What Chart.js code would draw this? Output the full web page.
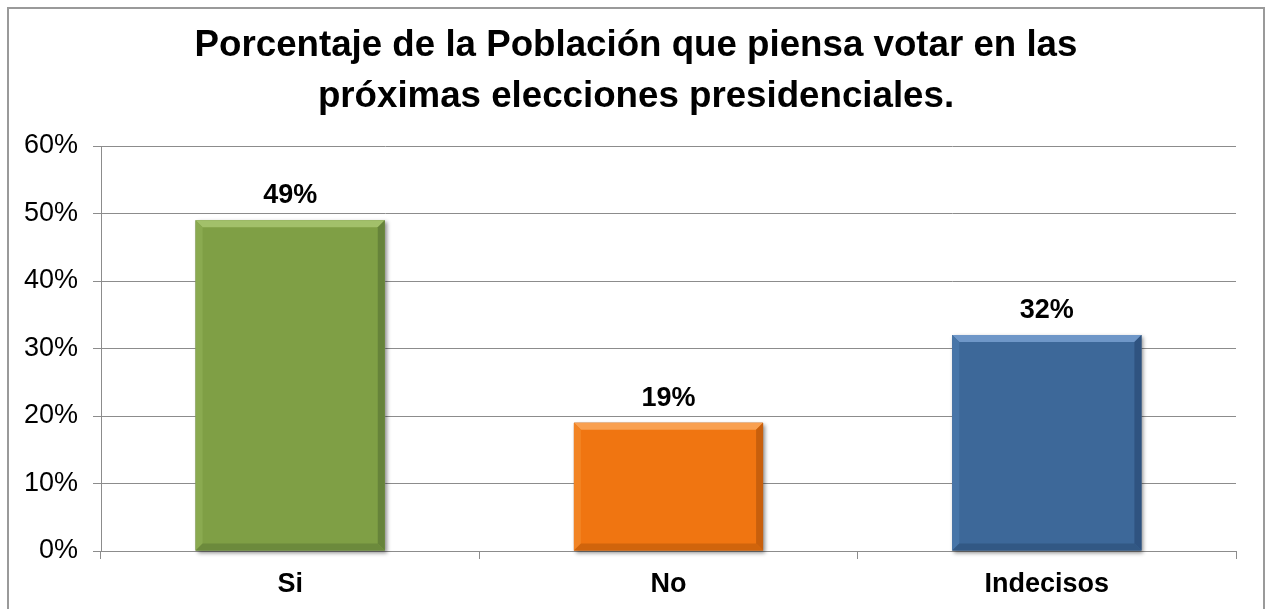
<!DOCTYPE html>
<html>
<head>
<meta charset="utf-8">
<script src="https://cdn.jsdelivr.net/npm/chart.js@4/dist/chart.umd.min.js"></script>
<style>
html,body{margin:0;padding:0;background:#fff;}
#wrap{width:1271px;height:609px;position:relative;}
</style>
</head>
<body>
<div id="wrap"><canvas id="c" width="1271" height="609"></canvas></div>
<script>
const categories = ["Si", "No", "Indecisos"];
const values = [49, 19, 32];
const yTicks = [0, 10, 20, 30, 40, 50, 60];
const titleLines = ["Porcentaje de la Población que piensa votar en las", "próximas elecciones presidenciales."];

const barStyles = [
  {main:"#7F9F45", top:"#A2C06A", left:"#8AAA50", right:"#66833A", bottom:"#6C8A3C"},
  {main:"#F07511", top:"#F9A050", left:"#F28424", right:"#C85F0C", bottom:"#D0640C"},
  {main:"#3D6899", top:"#6F97C8", left:"#4775A8", right:"#2F5380", bottom:"#325884"}
];

const FONT = "'Liberation Sans', Arial, sans-serif";

const borderPlugin = {
  id: 'outerBorder',
  beforeDraw(chart) {
    const ctx = chart.ctx;
    ctx.save();
    ctx.fillStyle = '#fff';
    ctx.fillRect(0, 0, chart.width, chart.height);
    ctx.strokeStyle = '#9a9a9a';
    ctx.lineWidth = 2;
    ctx.beginPath();
    ctx.moveTo(8, chart.height + 2);
    ctx.lineTo(8, 8);
    ctx.lineTo(1264, 8);
    ctx.lineTo(1264, chart.height + 2);
    ctx.stroke();
    // title (centered on the whole chart frame)
    ctx.fillStyle = '#000';
    ctx.font = "bold 36.7px " + FONT;
    ctx.textAlign = 'center';
    ctx.textBaseline = 'middle';
    const lh = 36.7 * 1.405;
    titleLines.forEach((t, i) => ctx.fillText(t, 636, 20 + lh / 2 + i * lh));
    ctx.restore();
  }
};

const bevelPlugin = {
  id: 'bevel',
  beforeDatasetsDraw(chart) {
    const ctx = chart.ctx;
    const meta = chart.getDatasetMeta(0);
    ctx.save();
    meta.data.forEach((el) => {
      const p = el.getProps(['x','y','base','width'], true);
      const l = p.x - p.width/2, r = p.x + p.width/2;
      ctx.shadowColor = 'rgba(0,0,0,0.45)';
      ctx.shadowBlur = 4;
      ctx.shadowOffsetX = 2;
      ctx.shadowOffsetY = 2;
      ctx.fillStyle = '#888';
      ctx.fillRect(l, p.y, r - l, p.base - p.y);
    });
    ctx.restore();
  },
  afterDatasetsDraw(chart) {
    const ctx = chart.ctx;
    const meta = chart.getDatasetMeta(0);
    ctx.save();
    meta.data.forEach((el, i) => {
      const s = barStyles[i];
      const p = el.getProps(['x','y','base','width'], true);
      const l = p.x - p.width/2, r = p.x + p.width/2, t = p.y, b = p.base;
      const bv = 7;
      const poly = (pts, c) => {
        ctx.fillStyle = c;
        ctx.beginPath();
        ctx.moveTo(pts[0][0], pts[0][1]);
        for (let k = 1; k < pts.length; k++) ctx.lineTo(pts[k][0], pts[k][1]);
        ctx.closePath();
        ctx.fill();
      };
      poly([[l,t],[r,t],[r-bv,t+bv],[l+bv,t+bv]], s.top);
      poly([[l,t],[l+bv,t+bv],[l+bv,b-bv],[l,b]], s.left);
      poly([[r,t],[r,b],[r-bv,b-bv],[r-bv,t+bv]], s.right);
      poly([[l,b],[l+bv,b-bv],[r-bv,b-bv],[r,b]], s.bottom);
      // value label
      ctx.fillStyle = '#000';
      ctx.font = "bold 27px " + FONT;
      ctx.textAlign = 'center';
      ctx.textBaseline = 'alphabetic';
      ctx.fillText(values[i] + '%', p.x, t - 17);
    });
    ctx.restore();
  }
};

new Chart(document.getElementById('c'), {
  type: 'bar',
  data: {
    labels: categories,
    datasets: [{
      data: values,
      backgroundColor: barStyles.map(s => s.main),
      borderWidth: 0,
      categoryPercentage: 1.0,
      barPercentage: 0.5
    }]
  },
  options: {
    responsive: false,
    animation: false,
    devicePixelRatio: 1,
    layout: { padding: { top: 146, left: 10, right: 35, bottom: 0 } },
    plugins: {
      legend: { display: false },
      tooltip: { enabled: false },
      title: { display: false }
    },
    scales: {
      y: {
        min: 0, max: 60,
        afterBuildTicks(scale) { scale.ticks = yTicks.map(v => ({ value: v })); },
        afterFit(scale) { scale.width = 91; },
        ticks: {
          color: '#000',
          padding: 15,
          font: { family: FONT, size: 27 },
          callback: (v) => v + '%'
        },
        grid: { color: '#8c8c8c', lineWidth: 1, tickLength: 8, drawTicks: true },
        border: { display: true, color: '#8c8c8c', width: 1 }
      },
      x: {
        afterFit(scale) { scale.height = 58; },
        ticks: {
          color: '#000',
          padding: 9,
          font: { family: FONT, size: 27, weight: 'bold' }
        },
        grid: { drawOnChartArea: false, drawTicks: true, tickLength: 8, color: '#8c8c8c', offset: true },
        border: { display: true, color: '#8c8c8c', width: 1 }
      }
    }
  },
  plugins: [borderPlugin, bevelPlugin]
});
</script>
</body>
</html>
